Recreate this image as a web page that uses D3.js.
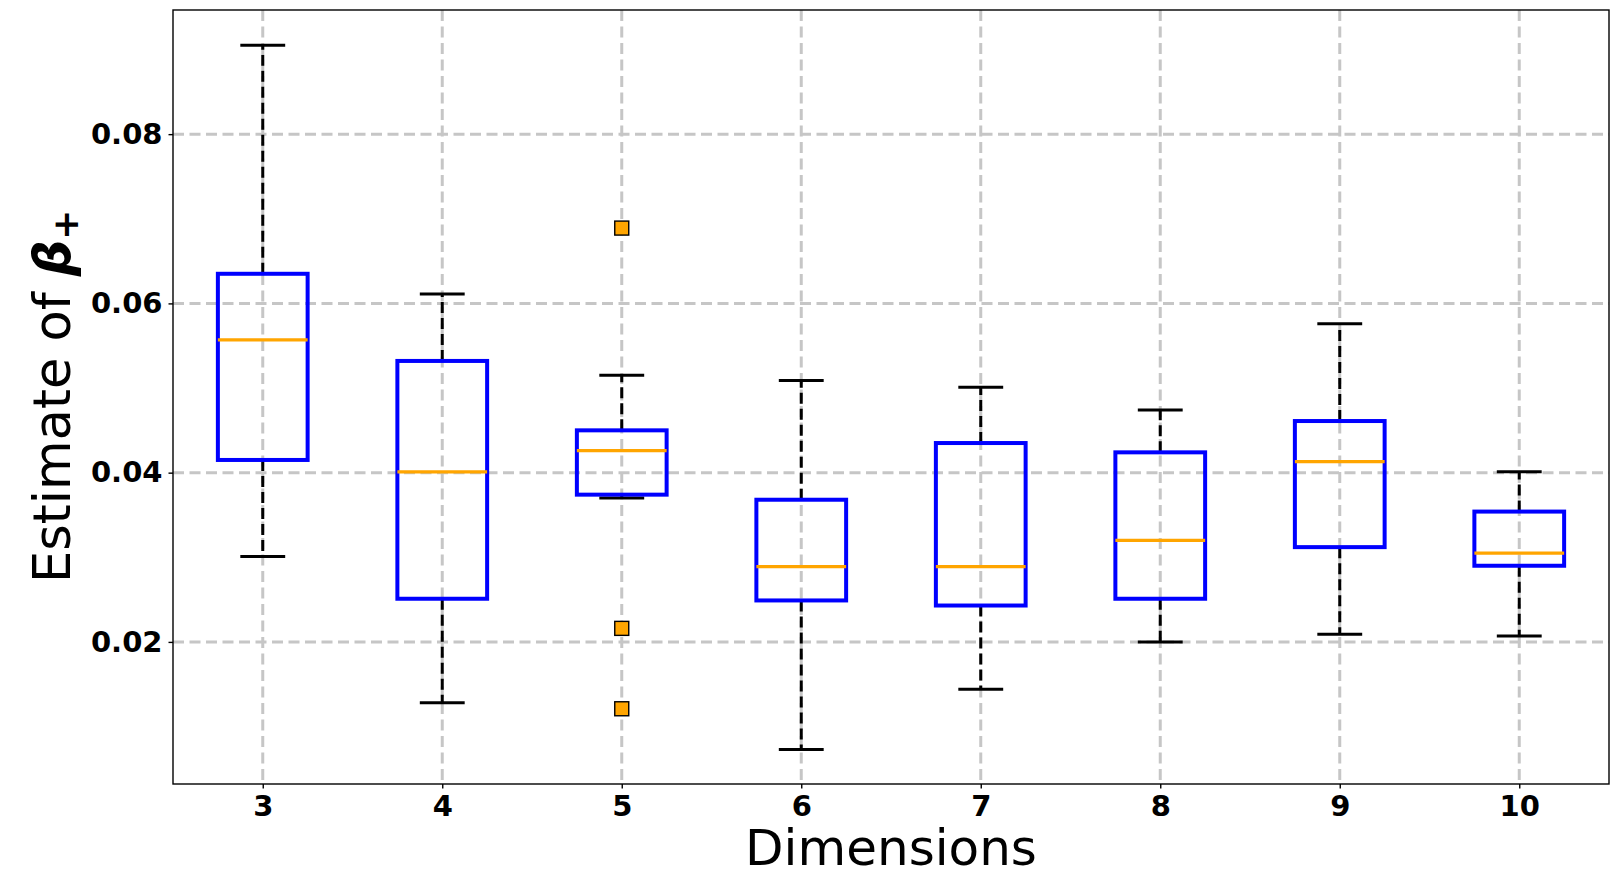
<!DOCTYPE html>
<html>
<head>
<meta charset="utf-8">
<script src="https://cdn.jsdelivr.net/npm/d3@7"></script>
<style>
  body { margin: 0; background: #fff; }
  svg text { font-family: "DejaVu Sans", sans-serif; }
  .tick text { font-weight: bold; font-size: 29px; fill: #000; }
</style>
</head>
<body>
<div id="chart-area"></div>
<script>
// box statistics
var dims = [3, 4, 5, 6, 7, 8, 9, 10];
var whiskerLow  = [0.0301, 0.0128, 0.0370, 0.0073, 0.0144, 0.0200, 0.0209, 0.0207];
var q1          = [0.0415, 0.0251, 0.0374, 0.0249, 0.0243, 0.0251, 0.0312, 0.0290];
var medians     = [0.0557, 0.0401, 0.0426, 0.0289, 0.0289, 0.0320, 0.0413, 0.0305];
var q3          = [0.0635, 0.0532, 0.0450, 0.0368, 0.0435, 0.0424, 0.0461, 0.0354];
var whiskerHigh = [0.0905, 0.0611, 0.0515, 0.0509, 0.0501, 0.0474, 0.0576, 0.0401];
var outlierDims = [5, 5, 5];
var outlierVals = [0.0689, 0.0216, 0.0121];
var yTicks = [0.02, 0.04, 0.06, 0.08];

var margin = {top: 10, right: 9, bottom: 100, left: 173},
    width = 1618 - margin.left - margin.right,
    height = 884 - margin.top - margin.bottom;

var svg = d3.select("#chart-area")
    .append("svg")
    .attr("width", width + margin.left + margin.right)
    .attr("height", height + margin.top + margin.bottom)
    .append("g")
    .attr("transform", "translate(" + margin.left + "," + margin.top + ")");

var xScale = d3.scaleLinear().domain([2.5, 10.5]).range([0, width]);
var yScale = d3.scaleLinear().domain([0.00321, 0.09467]).range([height, 0]);

var data = dims.map(function(d, i) {
    return {dim: d, lo: whiskerLow[i], q1: q1[i], med: medians[i], q3: q3[i], hi: whiskerHigh[i]};
});
var outliers = outlierDims.map(function(d, i) { return {dim: d, v: outlierVals[i]}; });

// grid
svg.append("g").selectAll("line").data(yTicks).enter().append("line")
    .attr("x1", 0).attr("x2", width)
    .attr("y1", d => yScale(d)).attr("y2", d => yScale(d))
    .attr("stroke", "#c6c6c6").attr("stroke-width", 3).attr("stroke-dasharray", "11,5.5");
svg.append("g").selectAll("line").data(dims).enter().append("line")
    .attr("x1", d => xScale(d)).attr("x2", d => xScale(d))
    .attr("y1", 0).attr("y2", height)
    .attr("stroke", "#c6c6c6").attr("stroke-width", 3).attr("stroke-dasharray", "11,5.5");

var boxW = xScale(3.25) - xScale(3);   // half box width
var capW = boxW / 2;

var box = svg.append("g").selectAll("g").data(data).enter().append("g");

// whiskers
box.append("line")
    .attr("x1", d => xScale(d.dim)).attr("x2", d => xScale(d.dim))
    .attr("y1", d => yScale(d.q3)).attr("y2", d => yScale(d.hi))
    .attr("stroke", "#000").attr("stroke-width", 3).attr("stroke-dasharray", "11,5");
box.append("line")
    .attr("x1", d => xScale(d.dim)).attr("x2", d => xScale(d.dim))
    .attr("y1", d => yScale(d.q1)).attr("y2", d => yScale(d.lo))
    .attr("stroke", "#000").attr("stroke-width", 3).attr("stroke-dasharray", "11,5");
// caps
box.append("line")
    .attr("x1", d => xScale(d.dim) - capW).attr("x2", d => xScale(d.dim) + capW)
    .attr("y1", d => yScale(d.hi)).attr("y2", d => yScale(d.hi))
    .attr("stroke", "#000").attr("stroke-width", 3);
box.append("line")
    .attr("x1", d => xScale(d.dim) - capW).attr("x2", d => xScale(d.dim) + capW)
    .attr("y1", d => yScale(d.lo)).attr("y2", d => yScale(d.lo))
    .attr("stroke", "#000").attr("stroke-width", 3);
// box
box.append("rect")
    .attr("x", d => xScale(d.dim) - boxW).attr("width", 2 * boxW)
    .attr("y", d => yScale(d.q3)).attr("height", d => yScale(d.q1) - yScale(d.q3))
    .attr("fill", "none").attr("stroke", "#0000ff").attr("stroke-width", 4);
// median
box.append("line")
    .attr("x1", d => xScale(d.dim) - boxW).attr("x2", d => xScale(d.dim) + boxW)
    .attr("y1", d => yScale(d.med)).attr("y2", d => yScale(d.med))
    .attr("stroke", "#ffa500").attr("stroke-width", 3.2);

// outliers
svg.append("g").selectAll("rect").data(outliers).enter().append("rect")
    .attr("x", d => xScale(d.dim) - 7).attr("y", d => yScale(d.v) - 7)
    .attr("width", 14).attr("height", 14)
    .attr("fill", "#ffa500").attr("stroke", "#000").attr("stroke-width", 1.4);

// axes
var xAxis = svg.append("g")
    .attr("transform", "translate(0," + height + ")")
    .call(d3.axisBottom(xScale).tickValues(dims).tickFormat(d3.format("d")).tickSizeOuter(0).tickSize(4.5).tickPadding(6.5));
var yAxis = svg.append("g")
    .call(d3.axisLeft(yScale).tickValues(yTicks).tickFormat(d3.format(".2f")).tickSizeOuter(0).tickSize(4.5).tickPadding(6));
[xAxis, yAxis].forEach(function(a) {
    a.select(".domain").remove();
    a.selectAll(".tick line").attr("stroke", "#000").attr("stroke-width", 1.4);
});

svg.append("rect")
    .attr("x", 0).attr("y", 0).attr("width", width).attr("height", height)
    .attr("fill", "none").attr("stroke", "#000").attr("stroke-width", 1.4);

// axis labels
svg.append("text")
    .attr("x", width / 2)
    .attr("y", height + 81)
    .attr("text-anchor", "middle")
    .style("font-size", "50px")
    .text("Dimensions");

var ylab = svg.append("text")
    .attr("transform", "rotate(-90)")
    .attr("x", -(583 - margin.top))
    .attr("y", 70 - margin.left)
    .attr("text-anchor", "start")
    .style("font-size", "51px");
ylab.append("tspan").text("Estimate of ");
ylab.append("tspan").style("font-weight", "bold").style("font-style", "italic").text("β");
ylab.append("tspan").style("font-weight", "bold").style("font-size", "36px").attr("dy", 8).text("+");
</script>
</body>
</html>
